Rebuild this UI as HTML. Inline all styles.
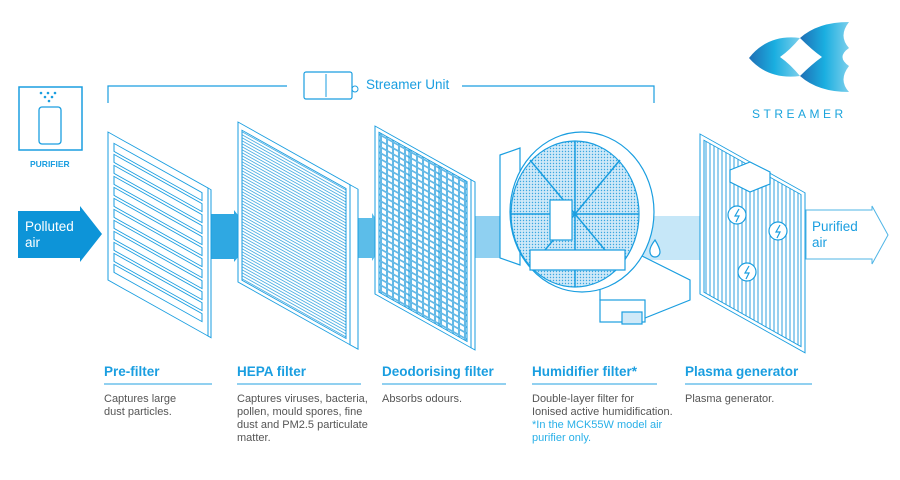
<!DOCTYPE html>
<html><head><meta charset="utf-8"><style>
body{margin:0;background:#fff}
svg{display:block;font-family:"Liberation Sans",sans-serif}
.h{fill:#1a9ee0;font-size:13.5px;font-weight:bold}
.b{fill:#555;font-size:11px}
</style></head><body>
<svg width="900" height="480" viewBox="0 0 900 480" xmlns="http://www.w3.org/2000/svg">
<defs>
<pattern id="hepa" width="4" height="3" patternUnits="userSpaceOnUse"><line x1="0" y1="1.5" x2="4" y2="1.5" stroke="#3aa6e0" stroke-width="0.9"/></pattern>
<pattern id="grid" width="6" height="6" patternUnits="userSpaceOnUse"><rect x="0.5" y="0.5" width="5" height="5" fill="none" stroke="#3aa6e0" stroke-width="0.8"/></pattern>
<pattern id="vert" width="4" height="4" patternUnits="userSpaceOnUse"><line x1="2" y1="0" x2="2" y2="4" stroke="#3aa6e0" stroke-width="1"/></pattern>
<pattern id="dots" width="3" height="3" patternUnits="userSpaceOnUse"><rect width="3" height="3" fill="#cfe9f8"/><circle cx="1.5" cy="1.5" r="0.7" fill="#3aa6e0"/></pattern>
<linearGradient id="lg" x1="0" x2="1"><stop offset="0" stop-color="#1f6fb5"/><stop offset="0.5" stop-color="#1aaee0"/><stop offset="1" stop-color="#7ccfec"/></linearGradient>
</defs>

<!-- Logo -->
<path d="M749 58 Q768 34 800 38 Q790 50 780 57 Q790 64 800 76 Q768 80 749 58Z" fill="url(#lg)"/>
<path d="M800 38 Q818 22 849 22 Q838 36 849 48 Q836 57 849 66 Q838 80 849 92 Q818 92 800 76 Q812 64 822 57 Q812 50 800 38Z" fill="url(#lg)"/>
<text x="752" y="118" fill="#1aa3dc" font-size="12" letter-spacing="3.5">STREAMER</text>

<!-- Purifier icon -->
<rect x="19" y="87" width="63" height="63" fill="none" stroke="#1a9ee0" stroke-width="1.5"/>
<g fill="#1a9ee0"><circle cx="41" cy="93" r="1.3"/><circle cx="48" cy="93" r="1.3"/><circle cx="55" cy="93" r="1.3"/><circle cx="45" cy="97" r="1.3"/><circle cx="52" cy="97" r="1.3"/><circle cx="49" cy="101" r="1.3"/></g>
<rect x="39" y="107" width="22" height="37" rx="3" fill="none" stroke="#1a9ee0" stroke-width="1.3"/>
<text x="30" y="167" fill="#1a9ee0" font-size="8.5" font-weight="bold">PURIFIER</text>

<!-- Streamer bracket -->
<path d="M108 103 V86 H287 M462 86 H654 V103" fill="none" stroke="#1a9ee0" stroke-width="1.2"/>
<rect x="304" y="72" width="48" height="27" rx="2" fill="#fff" stroke="#1a9ee0" stroke-width="1.2"/>
<line x1="326" y1="74" x2="326" y2="97" stroke="#1a9ee0"/><circle cx="355" cy="89" r="3" fill="none" stroke="#1a9ee0"/>
<text x="366" y="89" fill="#1a9ee0" font-size="13.5">Streamer Unit</text>

<!-- Arrows -->
<path d="M18 211 H80 V206 L102 234 L80 262 V258 H18Z" fill="#0d94d8"/>
<text x="25" y="231" fill="#fff" font-size="13.5">Polluted</text><text x="25" y="247" fill="#fff" font-size="13.5">air</text>
<path d="M209 214 H234 V210 L255 237 L234 262 V259 H209Z" fill="#2fa8e2"/>
<path d="M349 218 H372 V213 L388 237 L372 261 V258 H349Z" fill="#5cbde9"/>
<path d="M470 216 H510 V212 L525 237 L510 262 V258 H470Z" fill="#8fd0f1"/>
<path d="M640 216 H700 V212 L722 238 L700 264 V260 H640Z" fill="#c6e7f8"/>
<path d="M806 210 H872 V206 L888 235 L872 264 V259 H806Z" fill="#fff" stroke="#4fb5e6" stroke-width="1"/>
<text x="812" y="231" fill="#1a9ee0" font-size="13.5">Purified</text><text x="812" y="247" fill="#1a9ee0" font-size="13.5">air</text>

<!-- Pre-filter -->
<g transform="translate(108,132) matrix(1,.56,0,1,0,0)" stroke="#1a9ee0" fill="#fff" stroke-width="1">
<rect x="0" y="0" width="100" height="148"/>
<rect x="100" y="0" width="3" height="148"/>
<g fill="none">
<rect x="6" y="8" width="88" height="8"/><rect x="6" y="19" width="88" height="8"/><rect x="6" y="30" width="88" height="8"/><rect x="6" y="41" width="88" height="8"/><rect x="6" y="52" width="88" height="8"/><rect x="6" y="63" width="88" height="8"/><rect x="6" y="74" width="88" height="8"/><rect x="6" y="85" width="88" height="8"/><rect x="6" y="96" width="88" height="8"/><rect x="6" y="107" width="88" height="8"/><rect x="6" y="118" width="88" height="8"/><rect x="6" y="129" width="88" height="8"/>
</g></g>

<!-- HEPA -->
<g transform="translate(238,128) matrix(1,.56,0,1,0,0)" stroke="#1a9ee0" stroke-width="1">
<rect x="0" y="-6" width="112" height="160" fill="#fff"/>
<rect x="112" y="-6" width="8" height="160" fill="#fff"/>
<rect x="4" y="0" width="104" height="150" fill="url(#hepa)"/>
</g>

<!-- Deodorising -->
<g transform="translate(375,126) matrix(1,.56,0,1,0,0)" stroke="#1a9ee0" stroke-width="1">
<rect x="0" y="0" width="96" height="168" fill="#fff"/>
<rect x="96" y="0" width="4" height="168" fill="#fff"/>
<rect x="4" y="4" width="88" height="160" fill="url(#grid)"/>
<line x1="34" y1="4" x2="34" y2="164"/><line x1="64" y1="4" x2="64" y2="164"/>
</g>

<!-- Humidifier -->
<g stroke="#1a9ee0" stroke-width="1.2" fill="#fff">
<path d="M500 155 L520 148 L520 265 L500 258Z"/>
<path d="M600 270 L640 255 L690 280 L690 300 L640 320 L600 300Z"/>
<ellipse cx="582" cy="212" rx="72" ry="80"/>
<ellipse cx="575" cy="214" rx="64" ry="73" fill="url(#dots)"/>
<path d="M575 141 V287 M511 214 H639 M530 160 L620 268 M620 160 L530 268" fill="none" stroke-width="1.5"/>
<rect x="550" y="200" width="22" height="40" fill="#fff"/>
<path d="M530 250 H625 V270 H530Z"/>
<rect x="600" y="300" width="45" height="22"/><rect x="622" y="312" width="20" height="12" fill="#cfe9f8"/>
<path d="M655 240 q-6 8 -5 12 a5 5 0 0 0 10 0 q0 -4 -5 -12Z"/>
</g>

<!-- Plasma -->
<g transform="translate(700,134) matrix(1,.56,0,1,0,0)" stroke="#1a9ee0" stroke-width="1">
<rect x="0" y="0" width="105" height="160" fill="#fff"/>
<rect x="4" y="4" width="97" height="152" fill="url(#vert)"/>
</g>
<g stroke="#1a9ee0" stroke-width="1.2" fill="#fff">
<path d="M730 170 L750 162 L770 172 L770 184 L750 192 L730 182Z"/>
<circle cx="737" cy="215" r="9"/><circle cx="778" cy="231" r="9"/><circle cx="747" cy="272" r="9"/>
<path d="M739 209 l-4 7 h4 l-3 6 M780 225 l-4 7 h4 l-3 6 M749 266 l-4 7 h4 l-3 6" fill="none"/>
</g>

<!-- Labels -->
<g>
<text class="h" x="104" y="376">Pre-filter</text><line x1="104" y1="384" x2="212" y2="384" stroke="#4fb5e6" stroke-width="1.3"/>
<text class="b" x="104" y="402">Captures large</text><text class="b" x="104" y="415">dust particles.</text>
<text class="h" x="237" y="376">HEPA filter</text><line x1="237" y1="384" x2="361" y2="384" stroke="#4fb5e6" stroke-width="1.3"/>
<text class="b" x="237" y="402">Captures viruses, bacteria,</text><text class="b" x="237" y="415">pollen, mould spores, fine</text><text class="b" x="237" y="428">dust and PM2.5 particulate</text><text class="b" x="237" y="441">matter.</text>
<text class="h" x="382" y="376">Deodorising filter</text><line x1="382" y1="384" x2="506" y2="384" stroke="#4fb5e6" stroke-width="1.3"/>
<text class="b" x="382" y="402">Absorbs odours.</text>
<text class="h" x="532" y="376">Humidifier filter*</text><line x1="532" y1="384" x2="657" y2="384" stroke="#4fb5e6" stroke-width="1.3"/>
<text class="b" x="532" y="402">Double-layer filter for</text><text class="b" x="532" y="415">Ionised active humidification.</text>
<text class="b" x="532" y="428" style="fill:#29b0e8">*In the MCK55W model air</text><text class="b" x="532" y="441" style="fill:#29b0e8">purifier only.</text>
<text class="h" x="685" y="376">Plasma generator</text><line x1="685" y1="384" x2="812" y2="384" stroke="#4fb5e6" stroke-width="1.3"/>
<text class="b" x="685" y="402">Plasma generator.</text>
</g>
</svg>
</body></html>
